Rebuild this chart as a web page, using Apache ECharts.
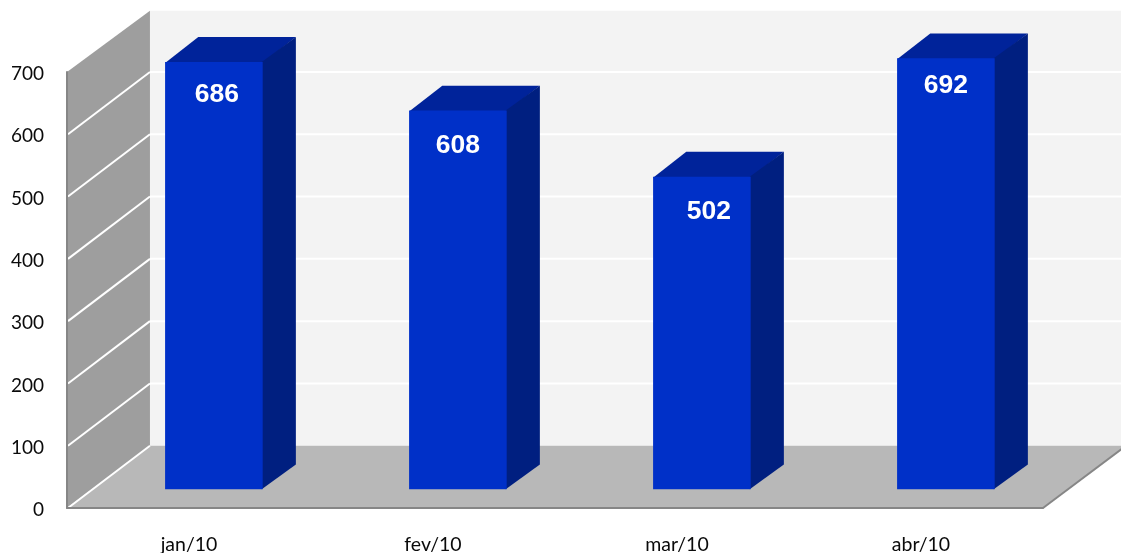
<!DOCTYPE html>
<html>
<head>
<meta charset="utf-8">
<style>html,body{margin:0;padding:0;background:#fff}#c{width:1121px;height:553px}</style>
<script src="https://cdn.jsdelivr.net/npm/echarts@6/dist/echarts.min.js"></script>
</head>
<body>
<div id="c"></div>
<script>
const categories = ['jan/10', 'fev/10', 'mar/10', 'abr/10'];
const values = [686, 608, 502, 692];
const gridValues = [0, 100, 200, 300, 400, 500, 600];

const chart = echarts.init(document.getElementById('c'), null, {renderer: 'canvas'});
const LABEL_FONT = 'Lato, "Open Sans", sans-serif';
const WALL_DX = 0.34, BAR_SHIFT = 0.3, BAR_DEPTH = 0.4, BAR_WIDTH = 0.4;
// hand-placed value labels in the original sit slightly off centre
const labelNudge = [[3, 32.5], [0, 35], [7, 35], [0, 27]];

function geom(api) {
  const o = api.coord([0, 0]);
  const u = api.coord([0, 100]);
  const cw = api.size([1, 0])[0];
  return {cw, unit: o[1] - u[1], dx: cw * WALL_DX};
}
function poly(points, fill, z2) {
  return {type: 'polygon', z2: z2 || 0, shape: {points}, style: {fill}};
}

function renderWalls(params, api) {
  const g = geom(api), r = params.coordSys;
  const x0 = r.x, x1 = r.x + r.width, yB = r.y + r.height, yT = r.y;
  const d = g.dx, h = g.unit;
  return {type: 'group', children: [
    {type: 'rect', shape: {x: x0 + d, y: yT - h + 1, width: x1 - x0, height: r.height - 1}, style: {fill: '#f3f3f3'}},
    poly([[x0, yT], [x0 + d, yT - h + 1], [x0 + d, yB - h], [x0, yB]], '#9e9e9e'),
    poly([[x0, yB], [x0 + d, yB - h], [x1 + d, yB - h], [x1, yB]], '#b8b8b8'),
    {type: 'line', shape: {x1: x1, y1: yB, x2: x1 + d, y2: yB - h}, style: {stroke: '#868686', lineWidth: 2}}
  ]};
}

function renderGridLine(params, api) {
  const g = geom(api), r = params.coordSys;
  const v = api.value(1);
  const y = api.coord([0, v])[1];
  const x0 = r.x + 1, xb = r.x + g.dx, yb = y - g.unit;
  const children = [{type: 'line', shape: {x1: x0, y1: y, x2: xb, y2: yb}, style: {stroke: '#ffffff', lineWidth: 2}}];
  if (v > 0) {
    children.push({type: 'line', shape: {x1: xb, y1: yb, x2: r.x + r.width + g.dx, y2: yb}, style: {stroke: '#ffffff', lineWidth: 2}});
  }
  return {type: 'group', children};
}

function renderBar(params, api) {
  const g = geom(api);
  const i = api.value(0), v = api.value(1);
  const c = api.coord([i, v]);
  const base = api.coord([i, 0]);
  const w = g.cw * BAR_WIDTH;
  const x = c[0] + g.dx * BAR_SHIFT - w / 2;
  const sy = g.unit * BAR_SHIFT;
  const top = c[1] - sy, bot = base[1] - sy;
  const bx = g.dx * BAR_DEPTH, by = g.unit * BAR_DEPTH;
  const n = labelNudge[params.dataIndex];
  return {type: 'group', children: [
    poly([[x, top + 1], [x + bx, top - by], [x + w + bx, top - by], [x + w, top + 1]], '#00239a'),
    poly([[x + w - 1, top], [x + w + bx, top - by], [x + w + bx, bot - by], [x + w - 1, bot]], '#001f80'),
    {type: 'rect', shape: {x, y: top, width: w, height: bot - top}, style: {fill: '#0030c8'}},
    {type: 'text', style: {
      x: x + w / 2 + n[0], y: top + n[1], text: String(v), fill: '#ffffff',
      font: 'bold 26.5px "Liberation Sans", Arial, sans-serif', align: 'center', verticalAlign: 'middle'
    }}
  ]};
}

chart.setOption({
  animation: false,
  backgroundColor: '#ffffff',
  grid: {left: 67, right: 78, top: 72, bottom: 45, containLabel: false, outerBoundsMode: 'none'},
  xAxis: {
    type: 'category', data: categories,
    axisTick: {show: false},
    axisLine: {show: true, onZero: false, lineStyle: {color: '#868686', width: 2}},
    axisLabel: {color: '#0a0a0a', fontFamily: LABEL_FONT, fontSize: 19.5, margin: 27, interval: 0},
    splitLine: {show: false}, z: 5
  },
  yAxis: {
    type: 'value', min: 0, max: 700, interval: 100,
    axisTick: {show: false},
    axisLine: {show: true, lineStyle: {color: '#868686', width: 2}},
    axisLabel: {color: '#0a0a0a', fontFamily: LABEL_FONT, fontSize: 19, margin: 23, verticalAlign: 'top', lineHeight: 4},
    splitLine: {show: false}, z: 5
  },
  series: [
    {type: 'custom', name: 'walls', silent: true, z: 1, clip: false, renderItem: renderWalls,
     data: [[0, 0]], encode: {x: 0, y: 1}},
    {type: 'custom', name: 'grid', silent: true, z: 2, clip: false, renderItem: renderGridLine,
     data: gridValues.map(v => [0, v]), encode: {x: 0, y: 1}},
    {type: 'custom', name: 'bars', silent: true, z: 3, clip: false, renderItem: renderBar,
     data: values.map((v, i) => [i, v]), encode: {x: 0, y: 1}}
  ]
});
</script>
</body>
</html>
